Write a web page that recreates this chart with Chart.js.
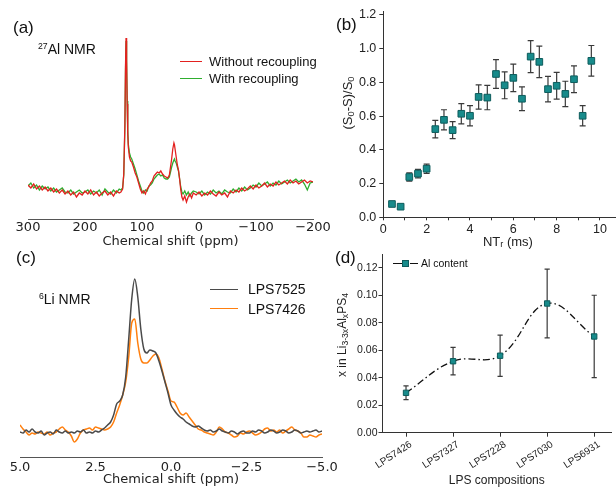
<!DOCTYPE html>
<html>
<head>
<meta charset="utf-8">
<script src="https://cdn.jsdelivr.net/npm/chart.js@4.4.0/dist/chart.umd.min.js"></script>
<style>
  html, body { margin: 0; padding: 0; background: #fff; overflow: hidden; }
  #fig { position: relative; width: 616px; height: 490px; overflow: hidden; font-family: "Liberation Sans", Arial, sans-serif; color: #111; }
  #fig canvas { position: absolute; left: 0; top: 0; }
  .t { position: absolute; white-space: nowrap; line-height: 1; }
  .t sup { font-size: 0.62em; vertical-align: 0.6em; line-height: 0; }
  .t sub { font-size: 0.72em; vertical-align: -0.25em; line-height: 0; }
  .rot { transform: translate(-50%, -50%) rotate(-90deg); color: #222; }
  .ln { position: absolute; height: 0; }
  .panel { font-size: 17px; }
</style>
</head>
<body>
<div id="fig">
  <canvas id="chartA" width="616" height="490"></canvas>
  <canvas id="chartC" width="616" height="490"></canvas>
  <canvas id="chartB" width="650" height="490"></canvas>
  <canvas id="chartD" width="616" height="490"></canvas>

  <div class="t panel" style="left:13px; top:18.5px;">(a)</div>
  <div class="t panel" style="left:336px; top:15.5px;">(b)</div>
  <div class="t panel" style="left:16px; top:248.5px;">(c)</div>
  <div class="t panel" style="left:335px; top:249px;">(d)</div>

  <div class="t" style="left:38px; top:42px; font-size:14px;"><sup>27</sup>Al NMR</div>
  <div class="t" style="left:39px; top:292px; font-size:14px;"><sup>6</sup>Li NMR</div>

  <!-- axis titles with real subscripts -->
  <div class="t rot" style="left:347px; top:103px; font-size:13px;">(S<sub>0</sub>-S)/S<sub>0</sub></div>
  <div class="t rot" style="left:342px; top:335px; font-size:12px;">x in Li<sub>3-3x</sub>Al<sub>x</sub>PS<sub>4</sub></div>

  <!-- legend (a) -->
  <div class="ln" style="left:180px; top:61px; width:22px; border-top:1.5px solid #e3211f;"></div>
  <div class="t" style="left:209px; top:55px; font-size:13px;">Without recoupling</div>
  <div class="ln" style="left:180px; top:78px; width:22px; border-top:1.5px solid #2fae2f;"></div>
  <div class="t" style="left:209px; top:72px; font-size:13px;">With recoupling</div>

  <!-- legend (c) -->
  <div class="ln" style="left:210px; top:289px; width:28px; border-top:1.5px solid #4a4a4a;"></div>
  <div class="t" style="left:248px; top:282px; font-size:14px;">LPS7525</div>
  <div class="ln" style="left:210px; top:308px; width:28px; border-top:1.5px solid #ff7f0e;"></div>
  <div class="t" style="left:248px; top:301.5px; font-size:14px;">LPS7426</div>

  <!-- legend (d) -->
  <div class="ln" style="left:393px; top:263px; width:9px; border-top:1.3px solid #111;"></div>
  <div style="position:absolute; left:402px; top:260px; width:5px; height:5px; background:#178b8b; border:1px solid #0e5c5c;"></div>
  <div class="ln" style="left:410px; top:263px; width:8px; border-top:1.3px solid #111;"></div>
  <div class="t" style="left:421px; top:258px; font-size:10.5px;">Al content</div>
</div>

<script>
// (a) 27Al NMR, chemical shift (ppm) and intensity (arb. units)
const shiftA = [300,295,290,285,280,275,270,265,260,255,250,245,240,235,230,225,220,215,210,205,200,195,190,185,180,175,170,165,160,155,150,145,140,
  137,134,132,130,129,128,127,126,125,124,122,120,118,115,112,109,106,103,100,97,94,91,88,85,82,79,76,73,70,67,64,61,58,55,52,50,48,46,44,43,42,40,38,36,34,32,30,28,25,22,19,16,13,10,
  5,0,-5,-10,-15,-20,-25,-30,-35,-40,-45,-50,-55,-60,-65,-70,-75,-80,-85,-90,-95,-100,-105,-110,-115,-120,-125,-130,-135,-140,-145,-150,-155,-160,-165,-170,-175,-180,-185,-190,-195,-200];
const alNoRecoupling = [34,31,35,30,33,29,32,28,31,27,30,26,29,25,28,24,27,22,26,24,28,25,29,24,27,23,26,28,24,27,23,28,26,
  27,30,45,95,150,181,160,115,85,72,62,58,57,52,46,42,36,30,26,28,25,30,32,36,38,43,45,47,46,48,45,43,42,41,44,52,60,70,76,74,70,62,54,49,40,29,22,19,23,17,22,25,21,26,
  24,27,23,26,24,28,25,23,27,24,26,22,28,26,29,27,31,28,30,33,30,34,31,33,36,32,35,33,37,34,36,38,35,39,36,38,35,37,39,36,38,37];
const alRecoupling = [33,36,31,34,29,33,30,32,28,31,27,29,31,27,26,29,25,27,29,26,27,29,25,28,26,29,24,30,27,25,29,26,30,
  29,31,44,92,145,178,158,118,90,75,66,62,60,55,50,44,38,33,28,26,29,28,33,34,36,40,42,44,45,43,44,41,40,40,42,47,52,56,59,60,58,56,52,48,40,32,27,25,28,24,27,23,26,28,
  27,25,28,24,27,25,29,26,28,25,29,27,26,30,27,31,28,32,29,31,34,32,36,33,35,37,33,36,34,38,35,37,39,36,38,40,37,39,35,29,36,37];

// (b) dephasing curve
const ntr = [0.4,0.8,1.2,1.6,2.0,2.4,2.8,3.2,3.6,4.0,4.4,4.8,5.2,5.6,6.0,6.4,6.8,7.2,7.6,8.0,8.4,8.8,9.2,9.6];
const dephasing = [0.079,0.063,0.239,0.259,0.288,0.523,0.578,0.517,0.614,0.602,0.714,0.710,0.850,0.783,0.827,0.703,0.953,0.922,0.760,0.780,0.732,0.819,0.602,0.928];
const dephasingErr = [0.008,0.008,0.025,0.025,0.027,0.052,0.060,0.050,0.060,0.060,0.072,0.072,0.085,0.080,0.082,0.070,0.095,0.093,0.076,0.079,0.075,0.079,0.060,0.091];

// (c) 6Li NMR
const shiftC = [5.0,4.9,4.8,4.7,4.6,4.5,4.4,4.3,4.2,4.1,4.0,3.9,3.8,3.7,3.6,3.5,3.4,3.3,3.2,3.1,3.0,2.9,2.8,2.7,2.6,2.5,2.4,2.3,2.2,2.1,
  2.0,1.9,1.8,1.7,1.6,1.5,1.4,1.3,1.2,1.1,1.0,0.9,0.8,0.7,0.6,0.5,0.4,0.3,0.2,0.1,0.0,-0.1,-0.2,-0.3,-0.4,-0.5,-0.6,-0.7,-0.8,-0.9,
  -1.0,-1.1,-1.2,-1.3,-1.4,-1.5,-1.6,-1.7,-1.8,-1.9,-2.0,-2.1,-2.2,-2.3,-2.4,-2.5,-2.6,-2.7,-2.8,-2.9,-3.0,-3.1,-3.2,-3.3,-3.4,-3.5,-3.6,-3.7,-3.8,-3.9,
  -4.0,-4.1,-4.2,-4.3,-4.4,-4.5,-4.6,-4.7,-4.8,-4.9,-5.0];
const lps7525 = [25,24,27,25,28,25,24,26,22,24,25,23,27,25,24,26,24,25,24,26,25,27,24,25,24,26,25,27,29,32,
  35,42,53,56,62,80,118,158,178,160,128,108,104,107,106,104,96,86,75,64,52,47,43,40,38,35,33,31,30,31,
  29,27,26,27,25,26,28,26,25,24,26,25,23,25,26,24,24,26,25,27,26,24,25,27,26,24,25,27,26,24,
  25,27,26,24,25,26,25,26,27,25,26];
const lps7426 = [32,28,25,22,24,23,25,24,23,25,22,24,25,28,30,27,25,21,15,18,24,27,28,29,27,30,29,28,27,28,
  30,35,44,52,62,75,100,134,138,114,98,94,94,97,101,103,99,88,76,66,56,55,50,44,42,44,40,36,32,28,
  27,25,24,23,22,25,30,28,25,24,22,20,21,24,23,25,26,24,22,23,25,28,29,26,27,25,27,24,26,28,
  30,27,26,24,20,20,22,21,20,22,23];

// (d) Al content per composition
const compositions = ['LPS7426','LPS7327','LPS7228','LPS7030','LPS6931'];
const alContent = [0.029,0.052,0.056,0.094,0.070];
const alContentErr = [0.005,0.010,0.015,0.025,0.030];

Chart.defaults.font.family = "'Liberation Sans', Arial, sans-serif";
Chart.defaults.color = '#222';

const mpl = { family: 'DejaVu Sans', size: 13 };
const minus = s => String(s).replace('-', '\u2212');

// vertical error bars with caps, drawn under the markers
const errorBars = {
  id: 'errorBars',
  beforeDatasetsDraw(chart, args, opts) {
    const ctx = chart.ctx;
    chart.data.datasets.forEach((ds, i) => {
      if (!ds.errors) return;
      const meta = chart.getDatasetMeta(i);
      const ys = chart.scales[meta.yAxisID];
      ctx.save();
      ctx.strokeStyle = opts.color;
      ctx.lineWidth = opts.width;
      meta.data.forEach((pt, j) => {
        const v = ds.data[j].y, e = ds.errors[j];
        const top = ys.getPixelForValue(v + e), bot = ys.getPixelForValue(v - e);
        ctx.beginPath();
        ctx.moveTo(pt.x, top); ctx.lineTo(pt.x, bot);
        ctx.moveTo(pt.x - opts.cap, top); ctx.lineTo(pt.x + opts.cap, top);
        ctx.moveTo(pt.x - opts.cap, bot); ctx.lineTo(pt.x + opts.cap, bot);
        ctx.stroke();
      });
      ctx.restore();
    });
  }
};

function spectrumOptions(pad, axisH, xmin, xmax, step, fmt, ymax, tickPad) {
  return {
    responsive: false, animation: false, events: [],
    layout: { padding: pad },
    plugins: { legend: { display: false }, tooltip: { enabled: false } },
    scales: {
      x: {
        type: 'linear', reverse: true, min: xmin, max: xmax,
        afterFit: s => { s.height = axisH; },
        grid: { display: false, drawTicks: false },
        border: { display: true, color: '#555', width: 1 },
        ticks: { stepSize: step, padding: tickPad, color: '#222', font: mpl, callback: fmt },
        title: { display: true, text: 'Chemical shift (ppm)', color: '#222', font: mpl, padding: { top: 0, bottom: 2 } }
      },
      y: { display: false, min: 0, max: ymax }
    }
  };
}

// (a)
new Chart(document.getElementById('chartA'), {
  type: 'line',
  data: {
    datasets: [
      { label: 'Without recoupling', data: shiftA.map((x, i) => ({ x, y: alNoRecoupling[i] })),
        borderColor: '#e3211f', borderWidth: 1.3, pointRadius: 0, tension: 0 },
      { label: 'With recoupling', data: shiftA.map((x, i) => ({ x, y: alRecoupling[i] })),
        borderColor: '#2fae2f', borderWidth: 1.3, pointRadius: 0, tension: 0 }
    ]
  },
  options: spectrumOptions({ left: 28, right: 303, top: 20, bottom: 239 }, 32, -200, 300, 100,
    v => minus(v), 199, 1)
});

// (c)
new Chart(document.getElementById('chartC'), {
  type: 'line',
  data: {
    datasets: [
      { label: 'LPS7525', data: shiftC.map((x, i) => ({ x, y: lps7525[i] })),
        borderColor: '#4a4a4a', borderWidth: 1.5, pointRadius: 0, cubicInterpolationMode: 'monotone' },
      { label: 'LPS7426', data: shiftC.map((x, i) => ({ x, y: lps7426[i] })),
        borderColor: '#ff7f0e', borderWidth: 1.5, pointRadius: 0, cubicInterpolationMode: 'monotone' }
    ]
  },
  options: spectrumOptions({ left: 20, right: 294, top: 265, bottom: 1 }, 32, -5, 5, 2.5,
    v => minus(v.toFixed(1)), 192, 3)
});

// (b)
new Chart(document.getElementById('chartB'), {
  type: 'scatter',
  data: {
    datasets: [{
      label: '(S0-S)/S0',
      data: ntr.map((x, i) => ({ x, y: dephasing[i] })),
      errors: dephasingErr,
      pointStyle: 'rect', pointRadius: 4.7,
      backgroundColor: '#178b8b', borderColor: '#0e5c5c', borderWidth: 1
    }]
  },
  plugins: [errorBars],
  options: {
    responsive: false, animation: false, events: [],
    layout: { padding: { left: 335, right: 17.5, top: 11.6, bottom: 240 } },
    plugins: { legend: { display: false }, tooltip: { enabled: false },
      errorBars: { color: '#3a3a3a', width: 1.2, cap: 3 } },
    scales: {
      x: {
        type: 'linear', min: 0, max: 11.5,
        afterFit: s => { s.height = 32.7; },
        grid: { drawOnChartArea: false, tickLength: 3, color: '#333' },
        border: { color: '#333', width: 1 },
        ticks: { stepSize: 1, includeBounds: false, padding: 1.5, font: { size: 12.5 },
          callback: v => (v % 2 === 0 ? String(v) : '') },
        title: { display: true, text: 'NT\u1d63 (ms)', font: { size: 13 }, padding: { top: 0, bottom: 0 } }
      },
      y: {
        min: 0, max: 1.22,
        afterFit: s => { s.width = 48.3; },
        grid: { drawOnChartArea: false, tickLength: 4,
          color: c => (Math.round(c.tick.value * 10) % 2 === 0 ? '#333' : '#999') },
        border: { color: '#333', width: 1 },
        ticks: { stepSize: 0.1, includeBounds: false, padding: 3, font: { size: 12.5 },
          callback: v => (Math.round(v * 10) % 2 === 0 ? v.toFixed(1) : '') }
      }
    }
  }
});

// (d)
new Chart(document.getElementById('chartD'), {
  type: 'line',
  data: {
    datasets: [{
      label: 'Al content',
      data: alContent.map((y, i) => ({ x: i, y })),
      errors: alContentErr,
      borderColor: '#111', borderWidth: 1.3, borderDash: [7, 3, 1.5, 3], tension: 0.4,
      pointStyle: 'rect', pointRadius: 3.8,
      pointBackgroundColor: '#178b8b', pointBorderColor: '#0e5c5c', pointBorderWidth: 1
    }]
  },
  plugins: [errorBars],
  options: {
    responsive: false, animation: false, events: [],
    layout: { padding: { left: 331, right: 0, top: 254, bottom: 2 } },
    plugins: { legend: { display: false }, tooltip: { enabled: false },
      errorBars: { color: '#3a3a3a', width: 1.2, cap: 2.6 } },
    scales: {
      x: {
        type: 'linear', min: -0.5, max: 4.357,
        afterFit: s => { s.height = 55.3; },
        grid: { drawOnChartArea: false, tickLength: 4, color: '#333' },
        border: { color: '#333', width: 1 },
        ticks: { stepSize: 1, includeBounds: false, padding: 2, autoSkip: false, labelOffset: 5,
          minRotation: 33, maxRotation: 33, font: { size: 10 },
          callback: v => compositions[v] || '' },
        title: { display: true, text: 'LPS compositions', font: { size: 12 }, padding: { top: 0, bottom: 0 } }
      },
      y: {
        min: 0, max: 0.13,
        afterFit: s => { s.width = 51.5; },
        grid: { drawOnChartArea: false, tickLength: 4, color: '#333' },
        border: { color: '#333', width: 1 },
        ticks: { stepSize: 0.02, includeBounds: false, padding: 1, font: { size: 10.5 },
          callback: v => v.toFixed(2) }
      }
    }
  }
});
</script>
</body>
</html>
